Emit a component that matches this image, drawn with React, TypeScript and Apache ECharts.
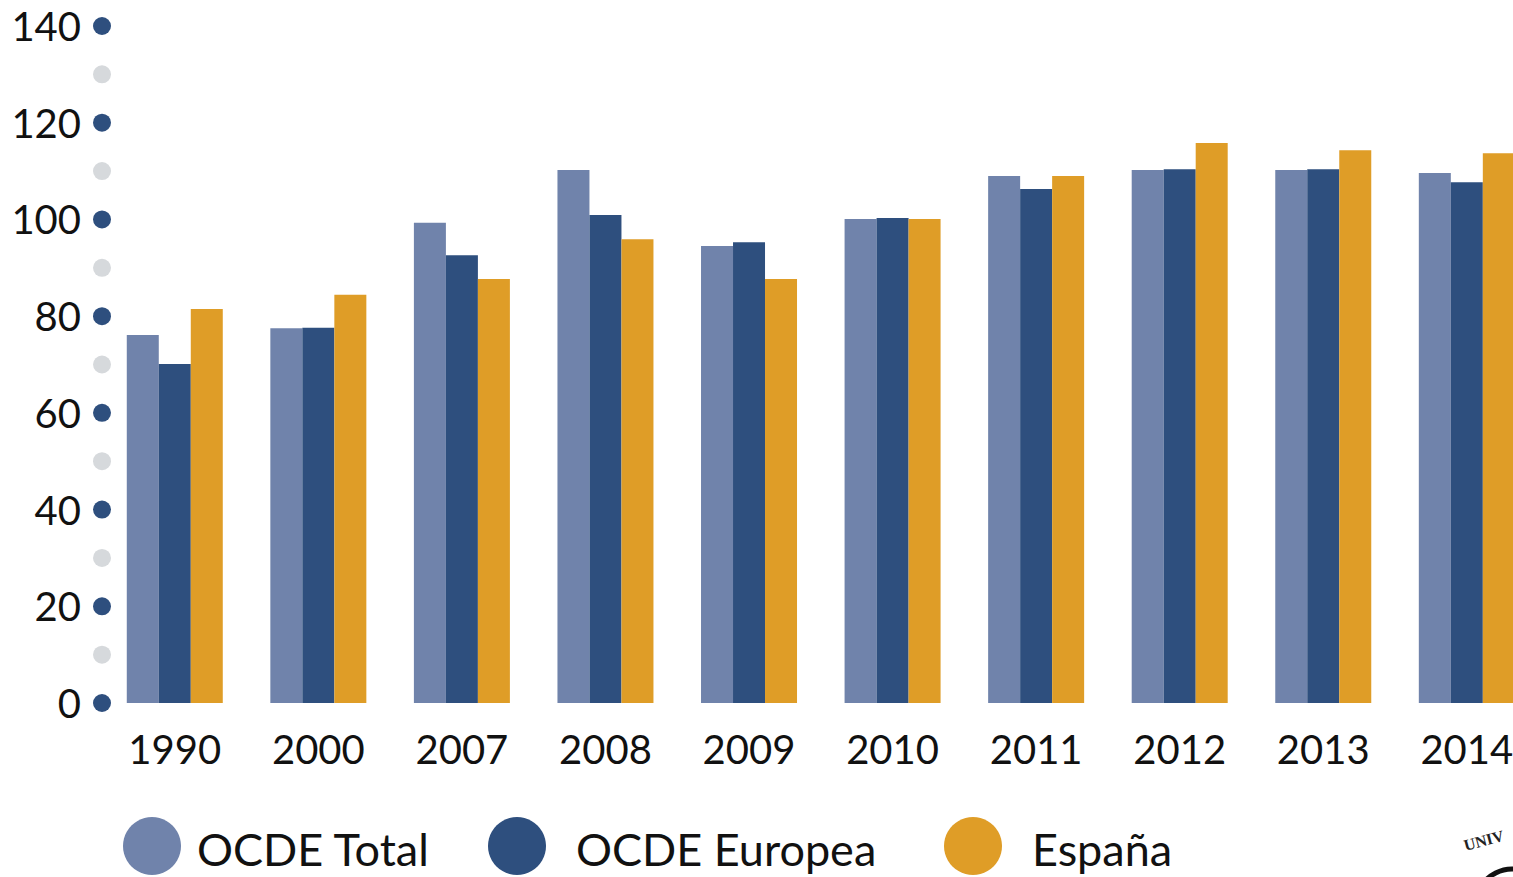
import React, { useEffect, useRef } from "react";
import * as echarts from "echarts";

const years = ["1990", "2000", "2007", "2008", "2009", "2010", "2011", "2012", "2013", "2014"];
const ocdeTotal = [76.1, 77.5, 99.3, 110.2, 94.5, 100.1, 109.0, 110.2, 110.2, 109.6];
const ocdeEuropea = [70.1, 77.6, 92.6, 100.9, 95.3, 100.3, 106.3, 110.4, 110.4, 107.7];
const espana = [81.5, 84.4, 87.7, 95.9, 87.7, 100.1, 109.0, 115.8, 114.3, 113.7];
const seriesNames = ["OCDE Total", "OCDE Europea", "España"];
const colors = ["#7083ab", "#2e4f7e", "#df9d27"];

const FONT = "Lato";

export default function App() {
  const ref = useRef<HTMLDivElement>(null);
  useEffect(() => {
    if (!ref.current) return;
    const chart = echarts.init(ref.current, undefined, { renderer: "svg" });
    const legendBase = {
      orient: "horizontal",
      top: 812,
      itemHeight: 58,
      icon: "circle",
      selectedMode: false,
      formatter: (name: string) => `{a|${name}}`,
      textStyle: {
        fontFamily: FONT,
        fontSize: 45,
        color: "#111",
        rich: { a: { fontFamily: FONT, fontSize: 45, lineHeight: 50, color: "#111", padding: [6, 0, 0, 0] } },
      },
    };
    chart.setOption({
      animation: false,
      backgroundColor: "#ffffff",
      color: colors,
      grid: { left: 103, top: 26, width: 1435.6, height: 677, containLabel: false },
      legend: [
        { ...legendBase, left: 118, itemWidth: 80, data: [seriesNames[0]] },
        { ...legendBase, left: 483, itemWidth: 108, data: [seriesNames[1]] },
        { ...legendBase, left: 939, itemWidth: 108, data: [seriesNames[2]] },
      ],
      xAxis: {
        type: "category",
        data: years,
        axisLine: { show: false },
        axisTick: { show: false },
        axisLabel: { fontFamily: FONT, fontSize: 40, color: "#111", margin: 26 },
      },
      yAxis: {
        type: "value",
        min: 0,
        max: 140,
        interval: 10,
        splitLine: { show: false },
        axisLine: { show: false },
        axisTick: { show: false },
        axisLabel: {
          margin: -8,
          formatter: (v: number) => (v % 20 === 0 ? `{n|${v}}{g| }{d| }` : `{l| }`),
          rich: {
            n: { fontFamily: FONT, fontSize: 40, color: "#111", verticalAlign: "middle" },
            g: { width: 12, verticalAlign: "middle" },
            d: { width: 18, height: 18, borderRadius: 9, backgroundColor: "#2e4f7e", verticalAlign: "middle" },
            l: { width: 18, height: 18, borderRadius: 9, backgroundColor: "#d6d9dc", verticalAlign: "middle" },
          },
        },
      },
      series: [
        { name: seriesNames[0], type: "bar", data: ocdeTotal, barWidth: 32, barGap: "0%" },
        { name: seriesNames[1], type: "bar", data: ocdeEuropea, barWidth: 32, barGap: "0%" },
        { name: seriesNames[2], type: "bar", data: espana, barWidth: 32, barGap: "0%" },
      ],
      graphic: [
        {
          type: "text",
          x: 1462,
          y: 838,
          rotation: 0.26,
          style: { text: "UNIV", font: 'bold 16px "Liberation Serif"', fill: "#222" },
        },
        {
          type: "arc",
          shape: { cx: 1512, cy: 905, r: 36, startAngle: Math.PI * 1.1, endAngle: Math.PI * 1.6 },
          style: { stroke: "#111", lineWidth: 5, fill: "none" },
        },
      ],
    });
    return () => chart.dispose();
  }, []);
  return (
    <div style={{ position: "absolute", left: 0, top: 0, width: 1513, height: 877, overflow: "hidden" }}>
      <div ref={ref} style={{ position: "absolute", left: 0, top: 0, width: 1545, height: 877 }} />
    </div>
  );
}
